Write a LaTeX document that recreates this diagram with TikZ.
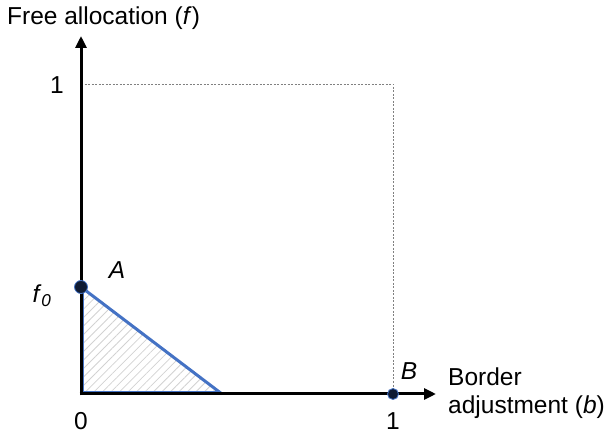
\documentclass[tikz,border=0pt]{standalone}
\usepackage{fontspec}
\setmainfont{Liberation Sans}
\usetikzlibrary{arrows.meta,patterns.meta}
\definecolor{blueline}{HTML}{4472C4}
\definecolor{dotfill}{HTML}{0F1B33}
\tikzset{
  axis/.style={line width=3pt,-{Triangle[length=12pt,width=11pt]}},
  guide/.style={gray,dashed,line width=0.5pt,dash pattern=on 2pt off 1.5pt},
  lbl/.style={font=\fontsize{24.5}{28}\selectfont,inner sep=0pt},
  dot/.style={circle,fill=dotfill,draw=blueline,line width=0.8pt,inner sep=0pt,minimum size=#1},
}
\begin{document}
\begin{tikzpicture}[x=1pt,y=-1pt]
\useasboundingbox (0,0) rectangle (613,435);
\coordinate (O) at (81,394);
\coordinate (Y1) at (81,84);
\coordinate (C) at (393,84);
\coordinate (X1) at (393,394);
\coordinate (F0) at (81,287);
\coordinate (T) at (222,394);
% hatched triangle
\fill[pattern={Lines[angle=45,distance=6pt,line width=0.8pt]},pattern color=gray!35] (83,290) -- (220,392) -- (83,392) -- cycle;
\draw[blueline,line width=1pt] (83,290) -- (83,392) -- (220,392);
\draw[blueline,line width=3pt] (F0) -- (T);
% guides
\draw[guide] (Y1) -- (C) -- (X1);
% axes
\coordinate (Ytip) at (81,36);
\coordinate (Xtip) at (436,394);
\draw[axis] (81,395.5) -- (Ytip);
\draw[axis] (79.5,394) -- (Xtip);
% dots
\node[dot=13pt] (A) at (F0) {};
\node[dot=11pt] (B) at (X1) {};
% labels
\node[lbl,anchor=west] (ytitle) at (7,18) {Free allocation (\textit{f})};
\node[lbl] (one-y) at (57,85) {1};
\node[lbl] (f0) at (42,296) {\textit{f}\textsubscript{\textit{0}}};
\node[lbl] (la) at (117,270) {\textit{A}};
\node[lbl] (zero) at (81,421) {0};
\node[lbl] (one-x) at (393,421) {1};
\node[lbl] (lb) at (409,371) {\textit{B}};
\node[lbl,anchor=west,align=left] (xtitle) at (448,393) {Border\\[0pt]adjustment (\textit{b})};
\end{tikzpicture}
\end{document}
